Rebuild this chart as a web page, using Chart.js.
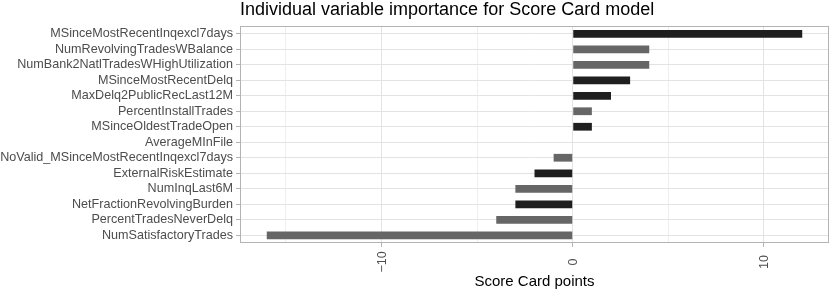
<!DOCTYPE html>
<html>
<head>
<meta charset="utf-8">
<script src="https://cdn.jsdelivr.net/npm/chart.js@4.4.1/dist/chart.umd.min.js"></script>
<style>
  html, body { margin: 0; padding: 0; background: #fff; }
</style>
</head>
<body>
<canvas id="chart" width="830" height="293"></canvas>
<script>
// variáveis do modelo, de cima para baixo
const variaveis = [
  'MSinceMostRecentInqexcl7days',
  'NumRevolvingTradesWBalance',
  'NumBank2NatlTradesWHighUtilization',
  'MSinceMostRecentDelq',
  'MaxDelq2PublicRecLast12M',
  'PercentInstallTrades',
  'MSinceOldestTradeOpen',
  'AverageMInFile',
  'NoValid_MSinceMostRecentInqexcl7days',
  'ExternalRiskEstimate',
  'NumInqLast6M',
  'NetFractionRevolvingBurden',
  'PercentTradesNeverDelq',
  'NumSatisfactoryTrades'
];
const pontos = [12, 4, 4, 3, 2, 1, 1, 0, -1, -2, -3, -3, -4, -16];
const grupos = ['a', 'b', 'b', 'a', 'a', 'b', 'a', 'b', 'b', 'a', 'b', 'a', 'b', 'b'];
const ticksX = [-15, -10, -5, 0, 5, 10];
const rotulosX = [-10, 0, 10];
const limitesX = [-17.4, 13.4];

const FONTE = '"Liberation Sans", Arial, Helvetica, sans-serif';
Chart.defaults.font.family = FONTE;
const corGrupo = { a: '#1f1f1f', b: '#666666' };

// moldura do painel (estilo theme_light)
const moldura = {
  id: 'moldura',
  afterDraw(chart) {
    const { ctx, chartArea: a } = chart;
    ctx.save();
    ctx.strokeStyle = '#b3b3b3';
    ctx.lineWidth = 1;
    ctx.strokeRect(a.left + 0.5, a.top + 0.5, a.width - 1, a.height - 1);
    ctx.restore();
  }
};

// rótulos do eixo x girados 90°, centrados
const rotulosEixoX = {
  id: 'rotulosEixoX',
  afterDraw(chart) {
    const { ctx, scales: { x } } = chart;
    ctx.save();
    ctx.fillStyle = '#4d4d4d';
    ctx.font = '12.5px ' + FONTE;
    ctx.textAlign = 'center';
    ctx.textBaseline = 'middle';
    rotulosX.forEach(v => {
      ctx.save();
      ctx.translate(x.getPixelForValue(v) + 1, x.top + 19);
      ctx.rotate(-Math.PI / 2);
      ctx.fillText(v < 0 ? '\u2212' + Math.abs(v) : String(v), 0, 0);
      ctx.restore();
    });
    ctx.restore();
  }
};

new Chart(document.getElementById('chart'), {
  type: 'bar',
  data: {
    labels: variaveis,
    datasets: [{
      data: pontos,
      backgroundColor: grupos.map(g => corGrupo[g]),
      borderWidth: 0,
      barPercentage: 0.5,
      categoryPercentage: 1
    }]
  },
  options: {
    indexAxis: 'y',
    responsive: false,
    animation: false,
    devicePixelRatio: 1,
    layout: { padding: { top: 0, right: 1, bottom: 0, left: 0 } },
    plugins: {
      legend: { display: false },
      tooltip: { enabled: false },
      title: {
        display: true,
        text: 'Individual variable importance for Score Card model',
        align: 'start',
        fullSize: false,
        color: '#000',
        font: { size: 18, weight: 'normal', lineHeight: 1.1 },
        padding: { top: 0, bottom: 6.2 }
      }
    },
    scales: {
      x: {
        min: limitesX[0],
        max: limitesX[1],
        afterBuildTicks: s => { s.ticks = ticksX.map(v => ({ value: v })); },
        grid: {
          color: c => (c.tick && c.tick.value % 10 === 0) ? '#e3e3e3' : '#eeeeee',
          tickColor: c => (c.tick && c.tick.value % 10 === 0) ? '#b3b3b3' : 'rgba(0,0,0,0)',
          tickLength: 4
        },
        border: { display: false },
        ticks: { display: false },
        title: {
          display: true,
          text: 'Score Card points',
          color: '#000',
          font: { size: 15 },
          padding: { top: 4, bottom: 2 }
        },
        afterFit: s => { s.height = 50; }
      },
      y: {
        grid: {
          offset: false,
          color: '#e3e3e3',
          tickColor: '#b3b3b3',
          tickLength: 4
        },
        border: { display: false },
        ticks: {
          color: '#4d4d4d',
          font: { size: 12.6 },
          padding: 3,
          autoSkip: false
        },
        afterFit: s => { s.width = 240; }
      }
    }
  },
  plugins: [moldura, rotulosEixoX]
});
</script>
</body>
</html>
